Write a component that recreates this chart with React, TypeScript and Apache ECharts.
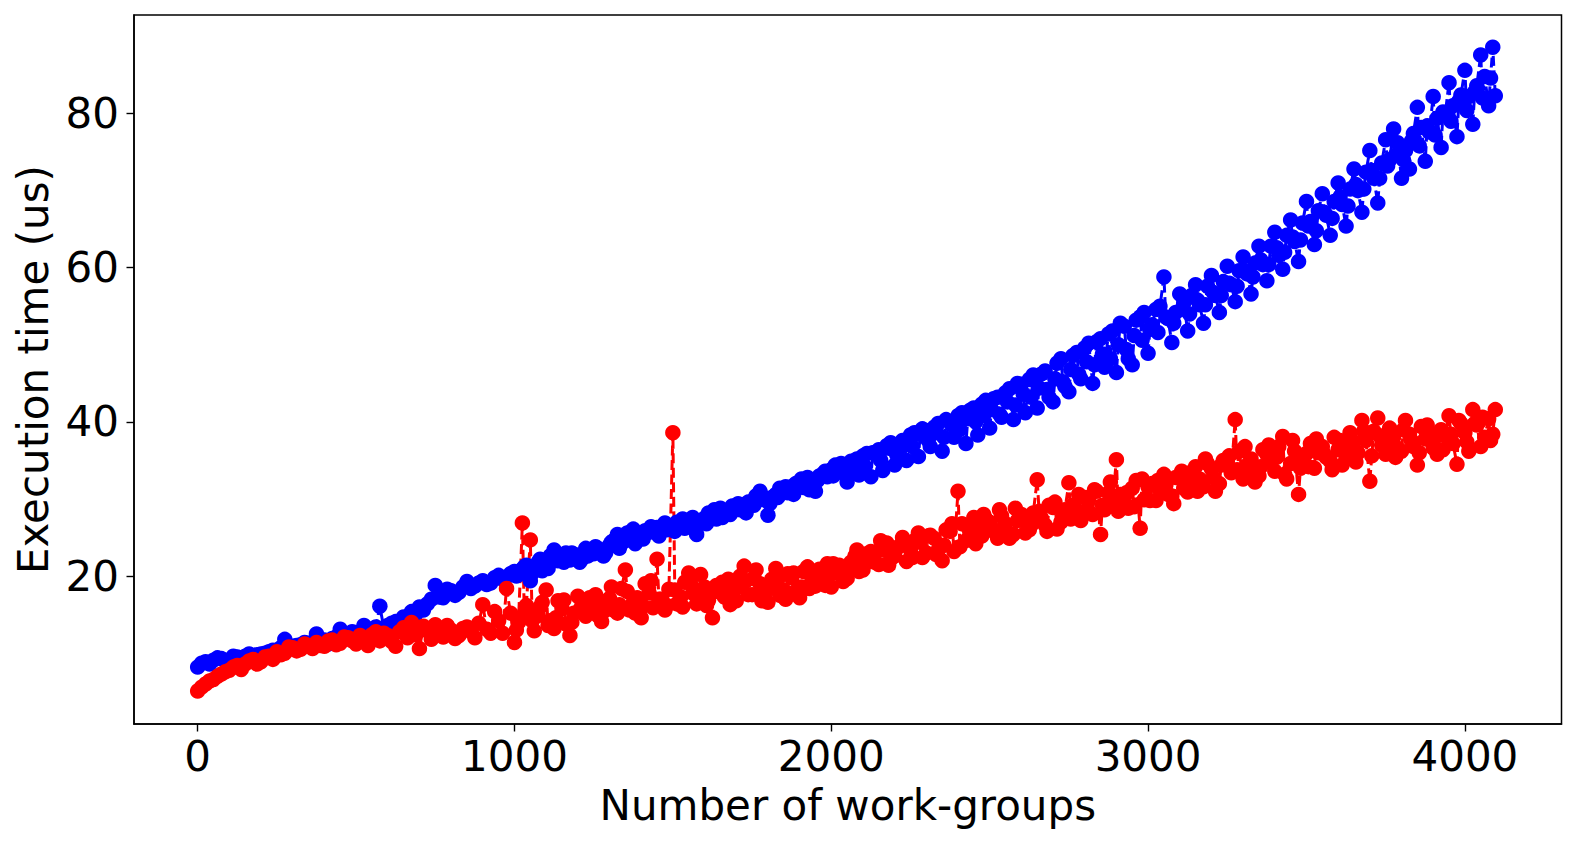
import React, { useEffect, useRef } from "react";
import * as echarts from "echarts";

// Number of work-groups (x positions of the samples, main grid)
const workGroups = [
  0, 25, 50, 75, 100, 125, 150, 175, 200, 225,
  250, 275, 300, 325, 350, 375, 400, 425, 450, 475,
  500, 525, 550, 575, 600, 625, 650, 675, 700, 725,
  750, 775, 800, 825, 850, 875, 900, 925, 950, 975,
  1000, 1025, 1050, 1075, 1100, 1125, 1150, 1175, 1200, 1225,
  1250, 1275, 1300, 1325, 1350, 1375, 1400, 1425, 1450, 1475,
  1500, 1525, 1550, 1575, 1600, 1625, 1650, 1675, 1700, 1725,
  1750, 1775, 1800, 1825, 1850, 1875, 1900, 1925, 1950, 1975,
  2000, 2025, 2050, 2075, 2100, 2125, 2150, 2175, 2200, 2225,
  2250, 2275, 2300, 2325, 2350, 2375, 2400, 2425, 2450, 2475,
  2500, 2525, 2550, 2575, 2600, 2625, 2650, 2675, 2700, 2725,
  2750, 2775, 2800, 2825, 2850, 2875, 2900, 2925, 2950, 2975,
  3000, 3025, 3050, 3075, 3100, 3125, 3150, 3175, 3200, 3225,
  3250, 3275, 3300, 3325, 3350, 3375, 3400, 3425, 3450, 3475,
  3500, 3525, 3550, 3575, 3600, 3625, 3650, 3675, 3700, 3725,
  3750, 3775, 3800, 3825, 3850, 3875, 3900, 3925, 3950, 3975,
  4000, 4025, 4050, 4075, 4088, 4096,
];

// Number of work-groups (x positions in between the main grid)
const workGroupsMid = [
  12.5, 37.5, 62.5, 87.5, 112.5, 137.5, 162.5, 187.5, 212.5, 237.5,
  262.5, 287.5, 312.5, 337.5, 362.5, 387.5, 412.5, 437.5, 462.5, 487.5,
  512.5, 537.5, 562.5, 587.5, 612.5, 637.5, 662.5, 687.5, 712.5, 737.5,
  762.5, 787.5, 812.5, 837.5, 862.5, 887.5, 912.5, 937.5, 962.5, 987.5,
  1012.5, 1037.5, 1062.5, 1087.5, 1112.5, 1137.5, 1162.5, 1187.5, 1212.5, 1237.5,
  1262.5, 1287.5, 1312.5, 1337.5, 1362.5, 1387.5, 1412.5, 1437.5, 1462.5, 1487.5,
  1512.5, 1537.5, 1562.5, 1587.5, 1612.5, 1637.5, 1662.5, 1687.5, 1712.5, 1737.5,
  1762.5, 1787.5, 1812.5, 1837.5, 1862.5, 1887.5, 1912.5, 1937.5, 1962.5, 1987.5,
  2012.5, 2037.5, 2062.5, 2087.5, 2112.5, 2137.5, 2162.5, 2187.5, 2212.5, 2237.5,
  2262.5, 2287.5, 2312.5, 2337.5, 2362.5, 2387.5, 2412.5, 2437.5, 2462.5, 2487.5,
  2512.5, 2537.5, 2562.5, 2587.5, 2612.5, 2637.5, 2662.5, 2687.5, 2712.5, 2737.5,
  2762.5, 2787.5, 2812.5, 2837.5, 2862.5, 2887.5, 2912.5, 2937.5, 2962.5, 2987.5,
  3012.5, 3037.5, 3062.5, 3087.5, 3112.5, 3137.5, 3162.5, 3187.5, 3212.5, 3237.5,
  3262.5, 3287.5, 3312.5, 3337.5, 3362.5, 3387.5, 3412.5, 3437.5, 3462.5, 3487.5,
  3512.5, 3537.5, 3562.5, 3587.5, 3612.5, 3637.5, 3662.5, 3687.5, 3712.5, 3737.5,
  3762.5, 3787.5, 3812.5, 3837.5, 3862.5, 3887.5, 3912.5, 3937.5, 3962.5, 3987.5,
  4012.5, 4037.5, 4062.5,
];

// Number of work-groups (extra samples, 1006 .. 4081)
const workGroupsExtra = [
  1006, 1031, 1056, 1081, 1106, 1131, 1156, 1181, 1206, 1231,
  1256, 1281, 1306, 1331, 1356, 1381, 1406, 1431, 1456, 1481,
  1506, 1531, 1556, 1581, 1606, 1631, 1656, 1681, 1706, 1731,
  1756, 1781, 1806, 1831, 1856, 1881, 1906, 1931, 1956, 1981,
  2006, 2031, 2056, 2081, 2106, 2131, 2156, 2181, 2206, 2231,
  2256, 2281, 2306, 2331, 2356, 2381, 2406, 2431, 2456, 2481,
  2506, 2531, 2556, 2581, 2606, 2631, 2656, 2681, 2706, 2731,
  2756, 2781, 2806, 2831, 2856, 2881, 2906, 2931, 2956, 2981,
  3006, 3031, 3056, 3081, 3106, 3131, 3156, 3181, 3206, 3231,
  3256, 3281, 3306, 3331, 3356, 3381, 3406, 3431, 3456, 3481,
  3506, 3531, 3556, 3581, 3606, 3631, 3656, 3681, 3706, 3731,
  3756, 3781, 3806, 3831, 3856, 3881, 3906, 3931, 3956, 3981,
  4006, 4031, 4056, 4081,
];

// Execution time (us), blue series, at workGroups
const blueTimes = [
  8.2, 8.9, 9.1, 9.3, 9.0, 9.5, 9.6, 9.4, 9.9, 10.2,
  10.4, 11.8, 10.9, 11.1, 11.3, 12.5, 11.7, 11.9, 13.1, 12.4,
  12.7, 13.6, 13.1, 16.1, 13.6, 14.1, 14.7, 15.4, 16.0, 16.4,
  18.8, 17.2, 18.1, 17.9, 19.3, 18.7, 19.4, 19.1, 20.1, 19.9,
  20.6, 20.9, 19.4, 21.8, 21.4, 23.4, 22.6, 22.1, 22.7, 23.6,
  22.9, 23.4, 24.0, 25.4, 24.6, 26.1, 25.3, 25.7, 26.3, 26.9,
  26.4, 26.8, 27.1, 25.4, 27.5, 27.9, 28.8, 28.4, 29.0, 29.3,
  29.7, 31.0, 27.9, 30.6, 31.1, 31.6, 32.2, 32.8, 31.0, 33.3,
  33.8, 34.2, 32.2, 35.0, 35.6, 32.9, 36.4, 36.9, 34.4, 37.6,
  38.3, 35.5, 38.9, 39.3, 36.2, 40.0, 40.8, 37.2, 41.8, 42.3,
  39.2, 43.2, 43.8, 40.3, 44.9, 45.5, 41.8, 46.6, 42.6, 48.2,
  43.9, 49.0, 49.6, 45.0, 50.8, 51.4, 46.4, 52.4, 47.4, 53.6,
  48.9, 54.6, 58.8, 50.3, 56.6, 51.8, 57.8, 52.8, 59.0, 54.2,
  60.2, 55.6, 61.4, 56.6, 62.8, 58.3, 64.6, 59.8, 66.2, 60.8,
  68.6, 63.0, 69.6, 64.2, 71.0, 65.4, 72.8, 67.2, 75.2, 68.4,
  76.6, 78.0, 71.6, 72.8, 80.8, 73.8, 82.2, 75.6, 84.0, 77.0,
  85.6, 78.6, 87.6, 81.0, 88.6, 82.3,
];

// Execution time (us), blue series, at workGroupsMid
const blueTimesMid = [
  8.7, 8.6, 9.4, 9.1, 9.6, 9.2, 9.9, 9.8, 10.0, 10.4,
  10.7, 10.5, 11.0, 11.4, 11.0, 11.5, 11.2, 12.1, 11.8, 12.8,
  12.4, 13.0, 13.4, 13.3, 13.9, 13.7, 14.2, 15.0, 15.6, 17.0,
  17.3, 18.3, 17.5, 18.6, 18.4, 19.1, 18.9, 19.8, 19.6, 20.3,
  20.2, 21.4, 21.0, 20.7, 22.6, 22.0, 23.0, 22.8, 22.2, 23.1,
  23.6, 23.0, 24.6, 24.2, 25.2, 24.9, 25.9, 26.2, 25.8, 26.3,
  27.0, 26.2, 27.6, 26.9, 28.2, 27.4, 28.3, 29.1, 28.6, 29.6,
  30.4, 29.9, 30.2, 31.4, 30.8, 32.0, 31.5, 32.4, 33.0, 32.9,
  34.4, 33.4, 34.9, 33.1, 35.9, 36.0, 33.7, 37.3, 37.0, 35.0,
  38.6, 39.1, 36.8, 39.8, 40.3, 38.0, 41.2, 41.5, 38.3, 42.8,
  43.0, 40.6, 44.3, 45.0, 41.2, 46.1, 46.2, 43.2, 47.6, 44.6,
  48.6, 45.6, 50.2, 50.4, 47.1, 51.8, 52.8, 48.2, 53.2, 54.2,
  52.6, 55.0, 53.4, 54.2, 55.4, 56.4, 55.2, 57.6, 56.4, 58.2,
  57.8, 59.6, 59.2, 60.6, 60.4, 62.8, 61.6, 64.2, 63.4, 65.8,
  66.0, 67.4, 66.8, 68.6, 68.2, 70.2, 70.0, 72.4, 71.6, 73.6,
  74.0, 76.2, 75.2, 77.4, 78.2, 77.6, 79.4, 79.8, 81.0, 82.4,
  82.2, 83.6, 84.8,
];

// Execution time (us), blue series, at workGroupsExtra
const blueTimesExtra = [
  20.0, 21.2, 20.4, 22.2, 21.0, 22.4, 21.8, 23.0, 21.8, 22.6,
  23.8, 22.6, 24.4, 23.6, 25.6, 24.2, 24.8, 26.4, 25.2, 26.0,
  25.8, 27.4, 26.6, 27.0, 26.8, 28.6, 27.6, 28.0, 29.4, 28.2,
  29.2, 30.4, 29.4, 30.2, 31.6, 30.6, 32.6, 31.2, 32.4, 33.6,
  33.0, 34.6, 33.6, 35.2, 34.2, 36.0, 35.0, 36.6, 35.8, 37.0,
  36.8, 38.4, 37.6, 38.6, 38.0, 39.6, 39.0, 40.4, 40.0, 40.8,
  41.6, 41.0, 42.6, 42.2, 43.6, 43.2, 44.4, 44.2, 45.6, 45.2,
  46.8, 46.2, 47.8, 47.4, 48.8, 48.2, 50.0, 49.4, 51.2, 50.6,
  52.0, 51.6, 53.6, 52.8, 54.6, 54.0, 55.8, 55.2, 56.8, 56.4,
  58.0, 57.6, 59.6, 58.8, 61.0, 60.4, 62.6, 62.0, 64.0, 63.6,
  65.4, 64.8, 67.2, 66.4, 69.2, 68.0, 70.8, 70.2, 72.6, 71.6,
  73.2, 74.6, 74.0, 76.4, 75.8, 78.4, 77.2, 80.2, 79.0, 81.6,
  80.4, 82.8, 82.0, 84.6,
];

// Execution time (us), red series, at workGroups
const redTimes = [
  5.1, 6.0, 6.6, 7.3, 7.8, 8.4, 8.6, 9.2, 8.9, 9.6,
  10.2, 10.0, 10.7, 10.5, 11.0, 11.4, 10.9, 11.7, 11.3, 12.0,
  11.2, 11.9, 12.4, 11.6, 12.3, 10.9, 13.3, 14.0, 10.6, 12.9,
  13.7, 12.1, 13.0, 12.3, 13.4, 12.0, 16.3, 12.6, 14.2, 18.4,
  11.4, 26.9, 24.7, 14.9, 18.2, 13.2, 15.8, 12.3, 17.4, 14.8,
  16.0, 14.1, 17.1, 15.2, 20.8, 16.6, 14.6, 17.8, 22.2, 15.6,
  38.6, 17.3, 20.4, 16.4, 18.6, 14.6, 17.9, 19.6, 16.8, 21.3,
  17.6, 19.0, 16.6, 21.0, 18.2, 19.8, 17.2, 21.2, 18.7, 19.9,
  18.6, 21.4, 19.7, 22.6, 20.8, 23.2, 21.5, 24.3, 22.6, 25.0,
  23.4, 25.6, 23.0, 24.9, 22.0, 25.8, 31.0, 24.6, 27.6, 25.2,
  27.0, 24.9, 26.8, 25.4, 28.0, 26.0, 32.5, 26.6, 28.9, 27.0,
  32.1, 28.4, 30.2, 28.0, 25.4, 30.8, 35.1, 29.6, 31.4, 26.2,
  31.6, 29.8, 33.2, 30.4, 32.8, 30.9, 34.2, 31.6, 33.9, 32.0,
  34.8, 40.3, 32.6, 35.2, 33.0, 35.8, 33.6, 38.1, 34.6, 30.6,
  35.9, 34.0, 36.8, 34.9, 36.4, 35.2, 37.4, 40.2, 32.3, 40.5,
  35.8, 38.0, 36.2, 38.4, 34.4, 37.8, 36.6, 39.0, 40.8, 34.5,
  38.6, 41.6, 36.8, 40.4, 38.4, 41.6,
];

// Execution time (us), red series, at workGroupsMid
const redTimesMid = [
  5.6, 6.4, 7.0, 7.6, 8.2, 7.9, 9.0, 8.6, 9.5, 9.2,
  9.8, 10.8, 10.3, 11.2, 10.6, 11.0, 11.6, 11.1, 12.1, 11.6,
  12.3, 11.0, 12.8, 12.6, 11.5, 12.8, 12.0, 12.4, 13.5, 11.8,
  12.6, 13.6, 11.9, 13.2, 12.8, 13.9, 13.1, 15.4, 12.6, 15.2,
  14.0, 16.2, 12.9, 16.6, 14.2, 16.8, 13.8, 15.2, 16.0, 17.2,
  14.9, 16.7, 15.6, 18.4, 15.6, 17.2, 19.0, 15.9, 17.0, 18.3,
  16.4, 19.2, 17.8, 20.2, 16.9, 18.8, 17.3, 18.4, 20.0, 17.6,
  20.8, 18.1, 19.6, 17.5, 20.3, 18.0, 20.6, 19.2, 20.9, 21.6,
  20.4, 19.3, 21.8, 20.6, 22.9, 21.8, 23.4, 22.2, 23.8, 21.9,
  24.6, 22.4, 25.3, 23.4, 26.0, 23.2, 26.8, 25.8, 26.4, 27.4,
  25.8, 27.8, 24.9, 27.2, 25.6, 28.2, 27.6, 29.2, 26.1, 28.6,
  29.2, 27.2, 29.9, 31.0, 28.6, 29.4, 30.6, 28.8, 32.4, 29.9,
  32.0, 31.2, 30.6, 32.8, 31.4, 33.5, 32.6, 34.6, 31.0, 35.0,
  33.4, 36.2, 34.4, 32.2, 36.4, 34.8, 36.8, 32.6, 36.2, 35.0,
  37.2, 36.0, 35.4, 38.0, 34.4, 38.6, 36.0, 37.6, 38.8, 37.0,
  39.2, 36.6, 40.2, 36.8, 39.4, 38.6, 35.8, 38.2, 37.2, 39.8,
  36.2, 39.6, 38.0,
];

// Execution time (us), red series, at workGroupsExtra
const redTimesExtra = [
  13.0, 15.1, 14.2, 16.0, 13.6, 14.6, 16.9, 14.0, 15.6, 16.4,
  17.6, 15.4, 18.6, 16.3, 18.0, 15.2, 16.1, 19.4, 17.0, 16.2,
  18.2, 16.0, 19.0, 17.2, 16.2, 18.0, 19.2, 16.3, 18.6, 19.4,
  19.8, 16.8, 18.4, 19.6, 17.0, 20.4, 18.6, 18.4, 20.0, 18.8,
  21.6, 20.4, 20.8, 23.4, 21.6, 22.2, 24.6, 21.4, 23.6, 24.4,
  22.4, 24.4, 25.2, 22.8, 24.0, 26.8, 23.8, 26.4, 24.2, 28.0,
  26.2, 28.6, 25.6, 28.8, 27.2, 26.6, 28.4, 25.8, 29.6, 28.2,
  27.4, 30.6, 28.6, 31.2, 29.2, 32.2, 28.4, 30.8, 29.0, 32.6,
  29.8, 32.4, 31.8, 29.4, 33.6, 32.2, 31.0, 35.2, 32.8, 34.4,
  35.6, 33.8, 36.8, 33.4, 34.2, 37.0, 35.4, 33.2, 37.6, 34.0,
  34.2, 37.8, 35.8, 33.8, 37.6, 36.8, 34.8, 38.8, 35.6, 38.2,
  37.4, 35.4, 39.0, 37.6, 36.0, 39.6, 38.0, 36.4, 38.4, 40.2,
  37.4, 39.8, 40.6, 37.6,
];

const xTicks = [0, 1000, 2000, 3000, 4000];
const yTicks = [20, 40, 60, 80];

const FONT = "DejaVu Sans";

function merged(parts: [number[], number[]][]) {
  const pts: number[][] = [];
  parts.forEach(([xs, ys]) => xs.forEach((x, i) => pts.push([x, ys[i]])));
  pts.sort((p, q) => p[0] - q[0]);
  return pts;
}

export default function App() {
  const ref = useRef<HTMLDivElement>(null);

  useEffect(() => {
    if (!ref.current) return;
    const chart = echarts.init(ref.current, null, { renderer: "svg" });

    const mk = (data: number[][], color: string) => ({
      type: "line",
      data,
      symbol: "circle",
      symbolSize: 15.5,
      showSymbol: true,
      itemStyle: { color },
      lineStyle: { color, width: 3, type: [10, 4.5] },
      emphasis: { disabled: true },
      silent: true,
    });

    const tickStyle = { show: true, inside: false, length: 7.5, lineStyle: { color: "#000", width: 1.4 } };
    const labelStyle = { fontSize: 42, fontFamily: FONT, color: "#000", formatter: (v: number) => String(v) };
    const nameStyle = { fontSize: 42, fontFamily: FONT, color: "#000" };

    chart.setOption({
      animation: false,
      backgroundColor: "#fff",
      grid: {
        left: 134,
        top: 15,
        right: 1577 - 1561.5,
        bottom: 846 - 724,
        show: true,
        borderColor: "#000",
        borderWidth: 1.5,
        backgroundColor: "transparent",
        containLabel: false,
      },
      xAxis: {
        type: "value",
        min: -201,
        max: 4305,
        axisLine: { show: true, onZero: false, lineStyle: { color: "#000", width: 1.5 } },
        axisTick: { ...tickStyle, customValues: xTicks },
        splitLine: { show: false },
        axisLabel: { ...labelStyle, customValues: xTicks, margin: 11 },
        name: "Number of work-groups",
        nameLocation: "middle",
        nameGap: 60,
        nameTextStyle: nameStyle,
      },
      yAxis: {
        type: "value",
        min: 0.82,
        max: 92.78,
        axisLine: { show: true, onZero: false, lineStyle: { color: "#000", width: 1.5 } },
        axisTick: { ...tickStyle, customValues: yTicks },
        splitLine: { show: false },
        axisLabel: { ...labelStyle, customValues: yTicks, margin: 15 },
        name: "Execution time (us)",
        nameLocation: "middle",
        nameGap: 80,
        nameTextStyle: nameStyle,
      },
      series: [
        mk(
          merged([
            [workGroups, blueTimes],
            [workGroupsMid, blueTimesMid],
            [workGroupsExtra, blueTimesExtra],
          ]),
          "#0000ff"
        ),
        mk(
          merged([
            [workGroups, redTimes],
            [workGroupsMid, redTimesMid],
            [workGroupsExtra, redTimesExtra],
          ]),
          "#ff0000"
        ),
      ],
    });

    return () => chart.dispose();
  }, []);

  return (
    <div
      ref={ref}
      style={{ position: "fixed", left: 0, top: 0, width: 1577, height: 846 }}
    />
  );
}
